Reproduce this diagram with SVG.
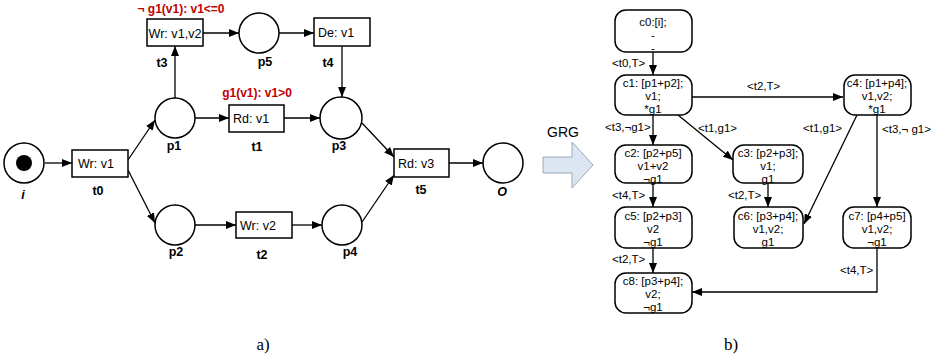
<svg xmlns="http://www.w3.org/2000/svg" width="936" height="362" viewBox="0 0 936 362">
<defs>
<marker id="ah" viewBox="0 0 10 8" refX="10" refY="4" markerWidth="10" markerHeight="8" markerUnits="userSpaceOnUse" orient="auto">
<path d="M0,0 L10,4 L0,8 z" fill="#000"/>
</marker>
<style>
.pl{fill:#fff;stroke:#000;stroke-width:1.5}
.tr{fill:#fff;stroke:#000;stroke-width:1.5}
.bx{font-family:"Liberation Sans",Arial,sans-serif;font-size:12.5px;fill:#000}
.lb{font-family:"Liberation Sans",Arial,sans-serif;font-size:12.5px;font-weight:bold;fill:#000;text-anchor:middle}
.rd{font-family:"Liberation Sans",Arial,sans-serif;font-size:12px;font-weight:bold;fill:#c00000;text-anchor:middle}
.nd{fill:#fff;stroke:#000;stroke-width:1.5}
.nt{font-family:"Liberation Sans",Arial,sans-serif;font-size:11.5px;fill:#000;text-anchor:middle}
.el{font-family:"Liberation Sans",Arial,sans-serif;font-size:11.5px;fill:#000}
.cn{fill:none;stroke:#000;stroke-width:1.3;marker-end:url(#ah)}
.cap{font-family:"Liberation Serif","Times New Roman",serif;font-size:17px;fill:#000;text-anchor:middle}
</style>
</defs>
<rect width="936" height="362" fill="#fff"/>

<!-- Petri net connectors -->
<g id="pn-connectors">
<line class="cn" x1="45" y1="163" x2="72" y2="163"/>
<line class="cn" x1="128" y1="160" x2="155" y2="120"/>
<line class="cn" x1="128" y1="170" x2="155" y2="223"/>
<line class="cn" x1="175" y1="98" x2="175" y2="46"/>
<line class="cn" x1="203" y1="33" x2="239" y2="33"/>
<line class="cn" x1="279" y1="33" x2="314" y2="33"/>
<line class="cn" x1="342" y1="46" x2="342" y2="97"/>
<line class="cn" x1="195" y1="118" x2="229" y2="118"/>
<line class="cn" x1="284" y1="118" x2="320" y2="118"/>
<line class="cn" x1="362" y1="123" x2="394" y2="157"/>
<line class="cn" x1="195" y1="225" x2="236" y2="225"/>
<line class="cn" x1="292" y1="225" x2="322" y2="225"/>
<line class="cn" x1="362" y1="222" x2="394" y2="175"/>
<line class="cn" x1="449" y1="163" x2="483" y2="163"/>
</g>

<g id="i">
<circle class="pl" cx="24" cy="163" r="20"/>
<circle cx="24" cy="163" r="8" fill="#000"/>
<text class="lb" x="23" y="199" font-style="italic">i</text>
</g>
<g id="t0">
<rect class="tr" x="72" y="150" width="56" height="27"/>
<text class="bx" x="78" y="168">Wr: v1</text>
<text class="lb" x="98" y="195">t0</text>
</g>
<g id="p1">
<circle class="pl" cx="175" cy="118" r="20"/>
<text class="lb" x="174" y="150">p1</text>
</g>
<g id="p2">
<circle class="pl" cx="175" cy="225" r="20"/>
<text class="lb" x="176" y="256">p2</text>
</g>
<g id="t3">
<text class="rd" x="181" y="13">¬ g1(v1): v1&lt;=0</text>
<rect class="tr" x="147" y="19" width="56" height="27"/>
<text class="bx" x="148.5" y="37.5" textLength="53" lengthAdjust="spacingAndGlyphs">Wr: v1,v2</text>
<text class="lb" x="162" y="67">t3</text>
</g>
<g id="p5">
<circle class="pl" cx="259" cy="33" r="20"/>
<text class="lb" x="265" y="66">p5</text>
</g>
<g id="t4">
<rect class="tr" x="314" y="18" width="56" height="28"/>
<text class="bx" x="318" y="36.5">De: v1</text>
<text class="lb" x="328" y="67">t4</text>
</g>
<g id="t1">
<text class="rd" x="257" y="97">g1(v1): v1&gt;0</text>
<rect class="tr" x="229" y="105" width="55" height="27" stroke-width="1"/>
<text class="bx" x="233" y="122.5">Rd: v1</text>
<text class="lb" x="257" y="151">t1</text>
</g>
<g id="p3">
<circle class="pl" cx="341" cy="118" r="21"/>
<text class="lb" x="339" y="150">p3</text>
</g>
<g id="t2">
<rect class="tr" x="236" y="212" width="56" height="26"/>
<text class="bx" x="240" y="229.5">Wr: v2</text>
<text class="lb" x="262" y="259">t2</text>
</g>
<g id="p4">
<circle class="pl" cx="342" cy="225" r="20"/>
<text class="lb" x="350" y="256">p4</text>
</g>
<g id="t5">
<rect class="tr" x="394" y="149" width="55" height="28"/>
<text class="bx" x="398" y="167.5">Rd: v3</text>
<text class="lb" x="421" y="194">t5</text>
</g>
<g id="O">
<circle class="pl" cx="503" cy="163" r="20"/>
<text class="lb" x="502" y="196" font-style="italic">O</text>
</g>

<text class="cap" x="263" y="350">a)</text>

<!-- GRG block arrow -->
<g id="grg">
<text x="563" y="137" font-family="'Liberation Sans',Arial,sans-serif" font-size="14" text-anchor="middle">GRG</text>
<polygon points="543,157 572,157 572,142 593,165 572,188 572,173 543,173" fill="#dce6f2" stroke="#9aa8b8" stroke-width="1"/>
</g>

<!-- GRG connectors -->
<g id="grg-connectors">
<line class="cn" x1="653" y1="52" x2="653" y2="75"/>
<line class="cn" x1="692" y1="97" x2="843" y2="97"/>
<line class="cn" x1="653" y1="115" x2="653" y2="145"/>
<line class="cn" x1="678" y1="115" x2="733" y2="160"/>
<line class="cn" x1="857" y1="115" x2="804" y2="224"/>
<line class="cn" x1="877" y1="115" x2="877" y2="207"/>
<line class="cn" x1="653" y1="183" x2="653" y2="207"/>
<line class="cn" x1="768" y1="183" x2="768" y2="207"/>
<line class="cn" x1="653" y1="248" x2="653" y2="273"/>
<path class="cn" d="M877,248 V292 H692"/>
<text class="el" x="612" y="67">&lt;t0,T&gt;</text>
<text class="el" x="747" y="90">&lt;t2,T&gt;</text>
<text class="el" x="605" y="131">&lt;t3,¬g1&gt;</text>
<text class="el" x="698" y="132">&lt;t1,g1&gt;</text>
<text class="el" x="803" y="132">&lt;t1,g1&gt;</text>
<text class="el" x="882" y="133">&lt;t3,¬ g1&gt;</text>
<text class="el" x="612" y="199">&lt;t4,T&gt;</text>
<text class="el" x="728" y="199">&lt;t2,T&gt;</text>
<text class="el" x="612" y="263">&lt;t2,T&gt;</text>
<text class="el" x="840" y="274">&lt;t4,T&gt;</text>
</g>

<g id="c0">
<rect class="nd" x="615" y="10" width="77" height="42" rx="11"/>
<text class="nt" x="653" y="25.5">c0:[i];<tspan x="653" y="38.5">-</tspan><tspan x="653" y="51.5">-</tspan></text>
</g>
<g id="c1">
<rect class="nd" x="615" y="75" width="77" height="40" rx="11"/>
<text class="nt" x="653" y="87">c1: [p1+p2];<tspan x="653" y="100">v1;</tspan><tspan x="653" y="113">*g1</tspan></text>
</g>
<g id="c4">
<rect class="nd" x="844" y="75" width="67" height="40" rx="11"/>
<text class="nt" x="877" y="87">c4: [p1+p4];<tspan x="877" y="100">v1,v2;</tspan><tspan x="877" y="113">*g1</tspan></text>
</g>
<g id="c2">
<rect class="nd" x="615" y="145" width="77" height="38" rx="11"/>
<text class="nt" x="653" y="156.5">c2: [p2+p5]<tspan x="653" y="169.5">v1+v2</tspan><tspan x="653" y="182.5">¬g1</tspan></text>
</g>
<g id="c3">
<rect class="nd" x="733" y="145" width="70" height="38" rx="11"/>
<text class="nt" x="768" y="156.5">c3: [p2+p3];<tspan x="768" y="169.5">v1;</tspan><tspan x="768" y="182.5">g1</tspan></text>
</g>
<g id="c5">
<rect class="nd" x="615" y="207" width="77" height="41" rx="11"/>
<text class="nt" x="653" y="219.5">c5: [p2+p3]<tspan x="653" y="232.5">v2</tspan><tspan x="653" y="245.5">¬g1</tspan></text>
</g>
<g id="c6">
<rect class="nd" x="734" y="207" width="69" height="41" rx="11"/>
<text class="nt" x="768" y="219.5">c6: [p3+p4];<tspan x="768" y="232.5">v1,v2;</tspan><tspan x="768" y="245.5">g1</tspan></text>
</g>
<g id="c7">
<rect class="nd" x="843" y="207" width="68" height="41" rx="11"/>
<text class="nt" x="877" y="219.5">c7: [p4+p5]<tspan x="877" y="232.5">v1,v2;</tspan><tspan x="877" y="245.5">¬g1</tspan></text>
</g>
<g id="c8">
<rect class="nd" x="615" y="273" width="77" height="40" rx="11"/>
<text class="nt" x="653" y="285">c8: [p3+p4];<tspan x="653" y="298">v2;</tspan><tspan x="653" y="311">¬g1</tspan></text>
</g>

<text class="cap" x="731" y="350">b)</text>
</svg>
